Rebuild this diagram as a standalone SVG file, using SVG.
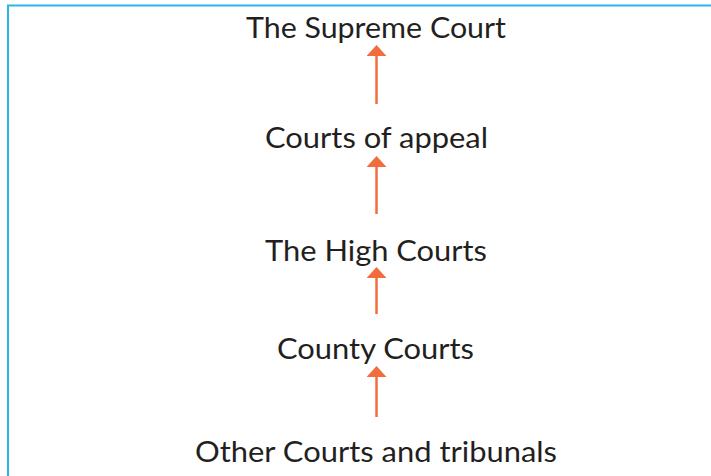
<svg xmlns="http://www.w3.org/2000/svg" width="711" height="476" viewBox="0 0 711 476">
  <defs>
    <marker id="head" markerUnits="userSpaceOnUse" markerWidth="11" markerHeight="20" refX="0" refY="10" orient="auto" viewBox="0 0 11 20">
      <path d="M0,0 L11,10 L0,20 Z" fill="#f26d3d"/>
    </marker>
    <style>
      .lbl { font-family: Lato, "Liberation Sans", sans-serif; font-size: 29px; fill: #231f20; text-anchor: middle; }
      .arr { stroke: #f26d3d; stroke-width: 2.5; fill: none; marker-end: url(#head); }
      .frame { stroke: #2bb5e8; stroke-width: 2; fill: none; }
    </style>
  </defs>
  <rect width="711" height="476" fill="#ffffff"/>
  <path class="frame" d="M8,476 L8,5.5 L711,5.5"/>

  <g id="connectors">
    <line class="arr" x1="376.5" y1="104" x2="376.5" y2="56"/>
    <line class="arr" x1="376.5" y1="214" x2="376.5" y2="167"/>
    <line class="arr" x1="376.5" y1="314" x2="376.5" y2="278"/>
    <line class="arr" x1="376.5" y1="417" x2="376.5" y2="377"/>
  </g>

  <g id="supreme-court">
    <text class="lbl" x="376" y="38" textLength="260" lengthAdjust="spacingAndGlyphs">The Supreme Court</text>
  </g>
  <g id="courts-of-appeal">
    <text class="lbl" x="376.5" y="148" textLength="223" lengthAdjust="spacingAndGlyphs">Courts of appeal</text>
  </g>
  <g id="high-courts">
    <text class="lbl" x="376" y="261" textLength="222" lengthAdjust="spacingAndGlyphs">The High Courts</text>
  </g>
  <g id="county-courts">
    <text class="lbl" x="375.5" y="359" textLength="197" lengthAdjust="spacingAndGlyphs">County Courts</text>
  </g>
  <g id="other-courts">
    <text class="lbl" x="376" y="462" textLength="362" lengthAdjust="spacingAndGlyphs">Other Courts and tribunals</text>
  </g>
</svg>
